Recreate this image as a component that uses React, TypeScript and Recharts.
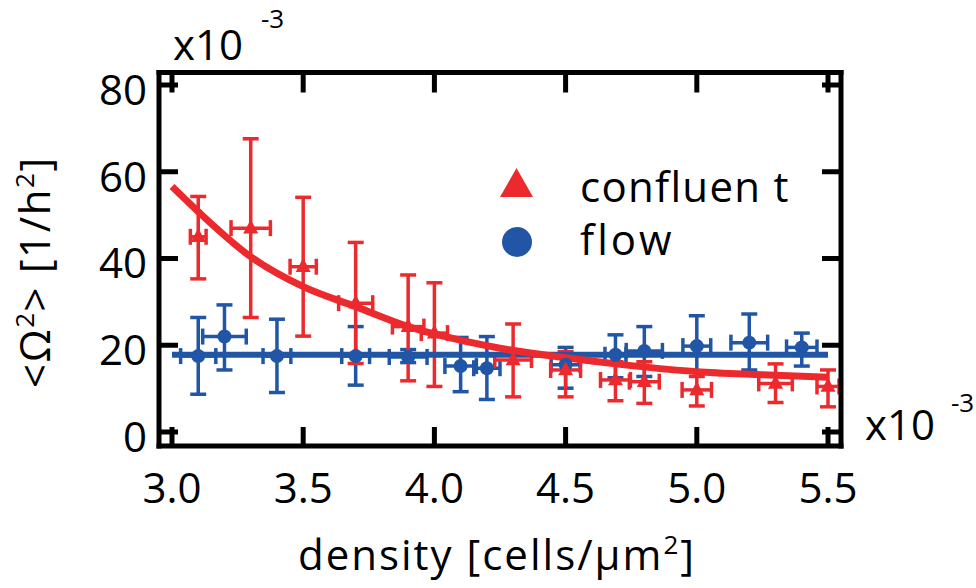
import React from 'react';
import { ComposedChart, XAxis, YAxis, Scatter, Line, ErrorBar, Legend, Customized } from 'recharts';

const RED = '#EC2A2E';
const BLUE = '#2156A6';
const FONT = '"Open Sans", "Noto Sans", sans-serif';
const FS = 42;

const xTicks = [3.0, 3.5, 4.0, 4.5, 5.0, 5.5];
const yTicks = [0, 20, 40, 60, 80];

// confluent (red triangles)
const confluentX = [3.1, 3.3, 3.5, 3.7, 3.9, 4.0, 4.3, 4.5, 4.69, 4.8, 5.0, 5.3, 5.5];
const confluentY = [45.0, 47.0, 38.1, 29.7, 24.3, 22.8, 16.6, 14.3, 12.0, 11.6, 9.7, 11.2, 10.5];
const confluentYLow = [35.3, 26.4, 22.1, 15.8, 11.8, 10.5, 8.1, 8.1, 7.2, 6.6, 6.0, 6.8, 5.8];
const confluentYHigh = [54.3, 67.6, 54.1, 43.7, 36.2, 34.4, 24.9, 18.5, 16.2, 16.2, 12.8, 15.7, 14.3];
const confluentXErr = [0.03, 0.075, 0.05, 0.065, 0.06, 0.05, 0.07, 0.057, 0.057, 0.057, 0.056, 0.064, 0.042];

// flow (blue circles)
const flowX = [3.1, 3.2, 3.4, 3.7, 3.9, 4.1, 4.2, 4.5, 4.69, 4.8, 5.0, 5.2, 5.4];
const flowY = [17.5, 22.0, 17.5, 17.5, 17.3, 15.2, 14.7, 15.5, 17.8, 18.7, 19.8, 20.6, 19.5];
const flowYLow = [8.7, 14.3, 9.1, 10.8, 16.0, 9.3, 7.5, 10.1, 12.5, 12.8, 13.9, 14.3, 15.2];
const flowYHigh = [26.4, 29.3, 26.0, 24.3, 19.0, 21.8, 22.0, 19.5, 22.4, 24.3, 26.8, 27.2, 22.8];
const flowXErr = [0.067, 0.083, 0.053, 0.053, 0.072, 0.06, 0.05, 0.055, 0.04, 0.069, 0.053, 0.07, 0.058];

// fit curves
const confluentFitX = [3.0, 3.1, 3.3, 3.5, 3.7, 3.9, 4.0, 4.25, 4.5, 4.75, 5.0, 5.25, 5.5];
const confluentFitY = [56.6, 50.8, 40.4, 33.5, 28.9, 24.3, 22.6, 19.3, 17.1, 15.3, 13.9, 13.2, 12.6];
const flowFitX = [3.0, 5.5];
const flowFitY = [17.8, 17.8];

const confluentData = confluentX.map((x, i) => ({
  x,
  y: confluentY[i],
  ey: [confluentY[i] - confluentYLow[i], confluentYHigh[i] - confluentY[i]],
  ex: confluentXErr[i],
}));
const flowData = flowX.map((x, i) => ({
  x,
  y: flowY[i],
  ey: [flowY[i] - flowYLow[i], flowYHigh[i] - flowY[i]],
  ex: flowXErr[i],
}));
const confluentFit = confluentFitX.map((x, i) => ({ x, fit: confluentFitY[i] }));
const flowFit = flowFitX.map((x, i) => ({ x, fit: flowFitY[i] }));

const X_DOMAIN = [2.9505, 5.5495];
const Y_DOMAIN = [-3.23, 82.88];

const BottomTick = (p: any) => (
  <g>
    <line x1={p.x} x2={p.x} y1={p.y} y2={p.y - 19} stroke="#000" strokeWidth={5} />
    <text x={p.x} y={p.y + 57} textAnchor="middle" fontSize={FS} fontFamily={FONT} fill="#000">
      {Number(p.payload.value).toFixed(1)}
    </text>
  </g>
);
const TopTick = (p: any) => (
  <line x1={p.x} x2={p.x} y1={p.y} y2={p.y + 20} stroke="#000" strokeWidth={5} />
);
const LeftTick = (p: any) => (
  <g>
    <line x1={p.x} x2={p.x + 19} y1={p.y} y2={p.y} stroke="#000" strokeWidth={5} />
    <text x={p.x - 12} y={p.y + 20} textAnchor="end" fontSize={FS} fontFamily={FONT} fill="#000">
      {p.payload.value}
    </text>
  </g>
);
const RightTick = (p: any) => (
  <line x1={p.x} x2={p.x - 19} y1={p.y} y2={p.y} stroke="#000" strokeWidth={5} />
);

const Triangle = (p: any) => {
  const { cx, cy } = p;
  const w = 7.5, h = 14;
  return <polygon points={`${cx},${cy - h * 0.62} ${cx + w},${cy + h * 0.38} ${cx - w},${cy + h * 0.38}`} fill={RED} />;
};
const Dot = (p: any) => <circle cx={p.cx} cy={p.cy} r={7} fill={BLUE} />;

const LegendContent = () => (
  <svg width={340} height={110} style={{ overflow: 'visible' }}>
    <polygon points="21.5,8 38,37 5,37" fill={RED} />
    <text x={85} y={42} fontSize={FS} fontFamily={FONT} fill="#000" letterSpacing={1.3}>confluen t</text>
    <circle cx={22} cy={82} r={15} fill={BLUE} />
    <text x={85} y={95} fontSize={FS} fontFamily={FONT} fill="#000" letterSpacing={3}>flow</text>
  </svg>
);

const Titles = () => (
  <g fontFamily={FONT} fill="#000">
    <text x={173} y={60} fontSize={FS}>x10</text>
    <text x={261} y={28} fontSize={26}>-3</text>
    <text x={865} y={440} fontSize={FS}>x10</text>
    <text x={951} y={412} fontSize={26}>-3</text>
    <text x={497} y={570} fontSize={FS} textAnchor="middle" letterSpacing={2}>
      density [cells/μm<tspan dy={-16} fontSize={26}>2</tspan><tspan dy={16}>]</tspan>
    </text>
    <text transform="translate(50,272) rotate(-90)" fontSize={FS} textAnchor="middle" letterSpacing={1.6}>
      &lt;Ω<tspan dy={-16} fontSize={26}>2</tspan><tspan dy={16}>&gt; [1/h</tspan><tspan dy={-16} fontSize={26}>2</tspan><tspan dy={16}>]</tspan>
    </text>
  </g>
);

export default function App() {
  return (
    <div style={{ position: 'absolute', left: 0, top: 0, width: 976, height: 588, background: '#fff' }}>
      <ComposedChart
        width={976}
        height={588}
        margin={{ top: 52.5, right: 95, bottom: 102, left: 99 }}
      >
        <XAxis
          xAxisId="bottom"
          dataKey="x"
          type="number"
          domain={X_DOMAIN}
          ticks={xTicks}
          allowDataOverflow
          interval={0}
          height={40}
          tickSize={0}
          tickMargin={0}
          tickLine={false}
          axisLine={{ stroke: '#000', strokeWidth: 5, strokeLinecap: 'square' }}
          tick={BottomTick}
        />
        <XAxis
          xAxisId="top"
          orientation="top"
          dataKey="x"
          type="number"
          domain={X_DOMAIN}
          ticks={xTicks}
          allowDataOverflow
          interval={0}
          height={20}
          tickSize={0}
          tickMargin={0}
          tickLine={false}
          axisLine={{ stroke: '#000', strokeWidth: 5, strokeLinecap: 'square' }}
          tick={TopTick}
        />
        <YAxis
          yAxisId="left"
          dataKey="y"
          type="number"
          domain={Y_DOMAIN}
          ticks={yTicks}
          allowDataOverflow
          interval={0}
          width={60}
          tickSize={0}
          tickMargin={0}
          tickLine={false}
          axisLine={{ stroke: '#000', strokeWidth: 5, strokeLinecap: 'square' }}
          tick={LeftTick}
        />
        <YAxis
          yAxisId="right"
          orientation="right"
          type="number"
          domain={Y_DOMAIN}
          ticks={yTicks}
          allowDataOverflow
          interval={0}
          width={40}
          tickSize={0}
          tickMargin={0}
          tickLine={false}
          axisLine={{ stroke: '#000', strokeWidth: 5, strokeLinecap: 'square' }}
          tick={RightTick}
        />
        <Scatter
          name="flow"
          data={flowData}
          xAxisId="bottom"
          yAxisId="left"
          fill={BLUE}
          shape={Dot}
          isAnimationActive={false}
        >
          <ErrorBar dataKey="ey" direction="y" width={8} stroke={BLUE} strokeWidth={3.5} />
          <ErrorBar dataKey="ex" direction="x" width={8} stroke={BLUE} strokeWidth={3.5} />
        </Scatter>
        <Scatter
          name="confluent"
          data={confluentData}
          xAxisId="bottom"
          yAxisId="left"
          fill={RED}
          shape={Triangle}
          isAnimationActive={false}
        >
          <ErrorBar dataKey="ey" direction="y" width={8} stroke={RED} strokeWidth={3.5} />
          <ErrorBar dataKey="ex" direction="x" width={8} stroke={RED} strokeWidth={3.5} />
        </Scatter>
        <Line
          data={flowFit}
          dataKey="fit"
          xAxisId="bottom"
          yAxisId="left"
          stroke={BLUE}
          strokeWidth={6}
          dot={false}
          activeDot={false}
          legendType="none"
          isAnimationActive={false}
        />
        <Line
          data={confluentFit}
          dataKey="fit"
          type="monotone"
          xAxisId="bottom"
          yAxisId="left"
          stroke={RED}
          strokeWidth={7}
          dot={false}
          activeDot={false}
          legendType="none"
          isAnimationActive={false}
        />
        <Legend
          layout="vertical"
          align="center"
          verticalAlign="middle"
          content={LegendContent}
          wrapperStyle={{ left: 495, top: 160, width: 340, height: 110 }}
        />
        <Customized component={Titles} />
      </ComposedChart>
    </div>
  );
}
